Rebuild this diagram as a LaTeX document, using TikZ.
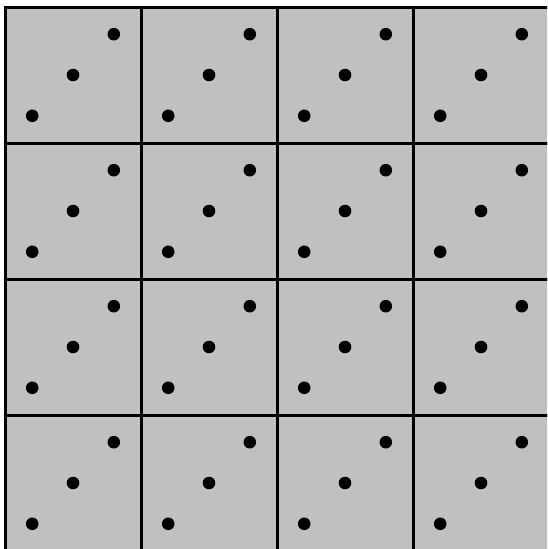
\documentclass[tikz,border=0pt]{standalone}
\definecolor{cellgray}{HTML}{C0C0C0}
\tikzset{
  cell/.style={fill=cellgray, draw=black, line width=3pt},
  dot/.style={fill=black}
}
\begin{document}
\begin{tikzpicture}[x=1pt, y=-1pt]
\useasboundingbox (0,0) rectangle (547,549);
\clip (0,0) rectangle (547,549);
\fill[white] (0,0) rectangle (547,549);
\foreach \i in {0,...,3}{
  \foreach \j in {0,...,3}{
    \pgfmathsetmacro{\xx}{5+136*\i}
    \pgfmathsetmacro{\yy}{7+136*\j}
    \draw[cell] (\xx,\yy) rectangle ++(136,136);
    \fill[dot] (\xx+27.2,\yy+108.8) circle (6.3);
    \fill[dot] (\xx+68,\yy+68) circle (6.3);
    \fill[dot] (\xx+108.8,\yy+27.2) circle (6.3);
  }
}
\end{tikzpicture}
\end{document}
